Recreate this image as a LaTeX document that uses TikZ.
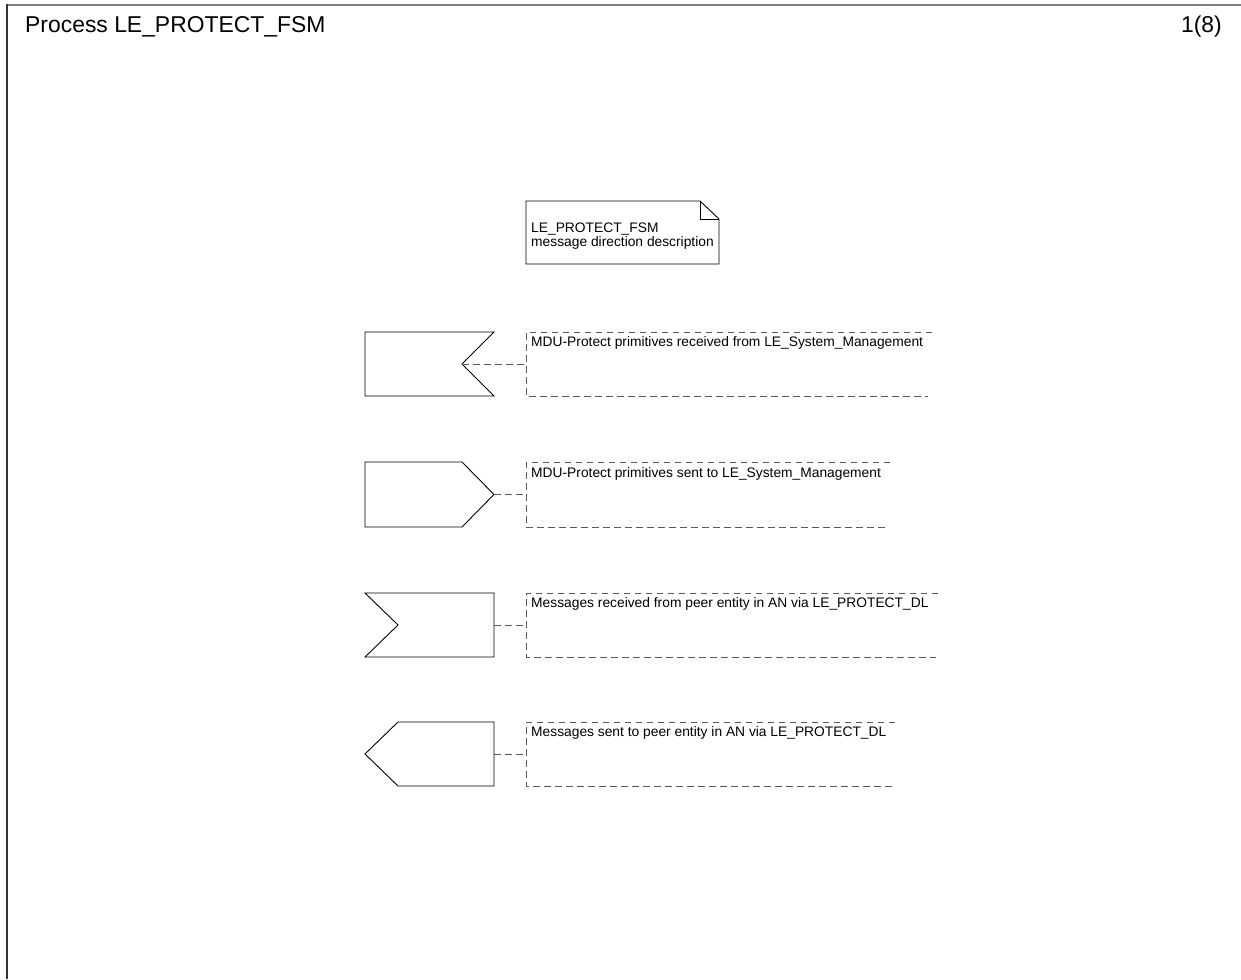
\documentclass[tikz,border=0pt]{standalone}
\usepackage{fontspec}
\setmainfont{Liberation Sans}
\begin{document}
\begin{tikzpicture}[x=1pt,y=-1pt,
  sym/.style={draw=black,line width=0.9pt,line join=miter},
  link/.style={draw=black!65,line width=0.9pt,dash pattern=on 6.5pt off 4.5pt},
  txt/.style={anchor=base west,inner sep=0pt,font=\fontsize{13.8}{14.2}\selectfont},
  ttl/.style={inner sep=0pt,font=\fontsize{22.9}{26}\selectfont}]
  \useasboundingbox (0,0) rectangle (1241,979);
  % page frame
  \draw[black!50,line width=2pt] (7,5) -- (1241,5);
  \draw[black!80,line width=2pt] (7,4) -- (7,979);
  \node[ttl,anchor=base west] (title) at (25,33) {Process LE\_PROTECT\_FSM};
  \node[ttl,anchor=base east] (page) at (1222,33) {1(8)};

  % text symbol with folded corner
  \draw[sym] (526,201) -- (700,201) -- (719,219) -- (719,264) -- (526,264) -- cycle;
  \draw[sym] (700,201) -- (700,219) -- (719,219);
  \node[txt,align=left,anchor=north west] (note) at (531,222.5)
    {LE\_PROTECT\_FSM\\message direction description};

  % input from the system management side
  \draw[sym] (365,332) -- (494,332) -- (462,364) -- (494,396) -- (365,396) -- cycle;
  \coordinate (in1) at (462,364);
  \coordinate (c1) at (526,364);
  \draw[link] (in1) -- (c1);
  \draw[link] (932,332) -- (526,332) -- (526,396) -- (928,396);
  \node[txt] (t1) at (531,346) {MDU-Protect primitives received from LE\_System\_Management};

  % output to the system management side
  \draw[sym] (365,462) -- (462,462) -- (494,494.5) -- (462,527) -- (365,527) -- cycle;
  \coordinate (out1) at (494,494.5);
  \coordinate (c2) at (526,494.5);
  \draw[link] (out1) -- (c2);
  \draw[link] (890,462) -- (526,462) -- (526,527) -- (887,527);
  \node[txt] (t2) at (531,477) {MDU-Protect primitives sent to LE\_System\_Management};

  % input from the peer entity
  \draw[sym] (365,593) -- (494,593) -- (494,657) -- (365,657) -- (398,625) -- cycle;
  \coordinate (in2) at (494,625);
  \coordinate (c3) at (526,625);
  \draw[link] (in2) -- (c3);
  \draw[link] (938,593) -- (526,593) -- (526,657) -- (936,657);
  \node[txt] (t3) at (531,607) {Messages received from peer entity in AN via LE\_PROTECT\_DL};

  % output to the peer entity
  \draw[sym] (398,722) -- (494,722) -- (494,786) -- (398,786) -- (365,754) -- cycle;
  \coordinate (out2) at (494,754);
  \coordinate (c4) at (526,754);
  \draw[link] (out2) -- (c4);
  \draw[link] (895,722) -- (526,722) -- (526,786) -- (895,786);
  \node[txt] (t4) at (531,736) {Messages sent to peer entity in AN via LE\_PROTECT\_DL};
\end{tikzpicture}
\end{document}
